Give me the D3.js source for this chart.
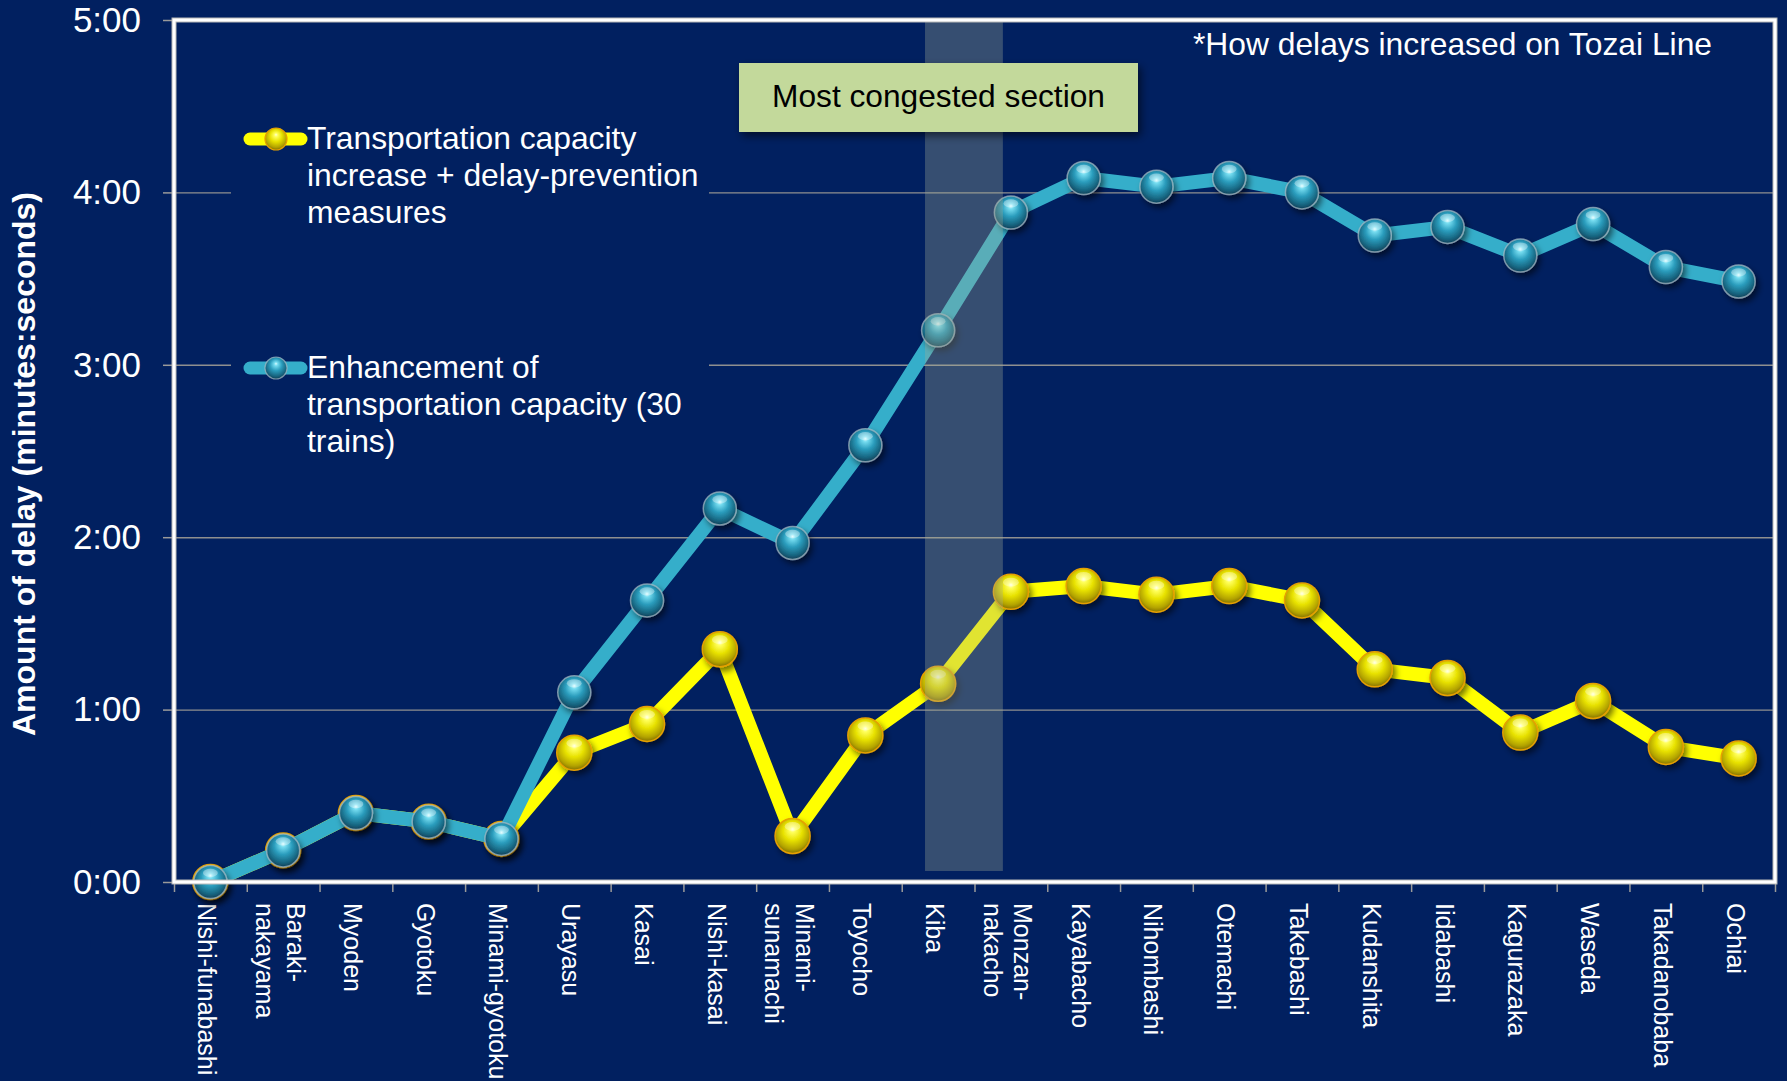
<!DOCTYPE html>
<html>
<head>
<meta charset="utf-8">
<script src="https://cdn.jsdelivr.net/npm/d3@7"></script>
<style>
  html, body { margin: 0; padding: 0; background: #012060; }
  svg { display: block; font-family: "Liberation Sans", Arial, Helvetica, sans-serif; }
</style>
</head>
<body>
<svg id="chart" width="1787" height="1081"></svg>
<script>
// Tozai Line stations, west to east ("\n" marks a label line break)
const stations = [
  "Nishi-funabashi", "Baraki-\nnakayama", "Myoden", "Gyotoku", "Minami-gyotoku",
  "Urayasu", "Kasai", "Nishi-kasai", "Minami-\nsunamachi", "Toyocho", "Kiba",
  "Monzan-\nnakacho", "Kayabacho", "Nihombashi", "Otemachi", "Takebashi",
  "Kudanshita", "Iidabashi", "Kagurazaka", "Waseda", "Takadanobaba", "Ochiai"
];

// Accumulated delay at each station, in seconds
const capacityOnly = [0, 11, 24, 21, 15, 66, 98, 130, 118, 152, 192, 233, 245, 242, 245, 240, 225, 228, 218, 229, 214, 209];
const capacityPlusMeasures = [0, 11, 24, 21, 15, 45, 55, 81, 16, 51, 69, 101, 103, 100, 103, 98, 74, 71, 52, 63, 47, 43];

// Axis ticks, in seconds
const yTicks = [0, 60, 120, 180, 240, 300];

const seriesNames = [
  ["Transportation capacity", "increase + delay-prevention", "measures"],
  ["Enhancement of", "transportation capacity (30", "trains)"]
];
const axisTitle = "Amount of delay (minutes:seconds)";
const noteText = "*How delays increased on Tozai Line";
const sectionText = "Most congested section";
const congestedStation = "Kiba";

const W = 1787, H = 1081;
const plot = { left: 174, right: 1775, top: 20, bottom: 882 };
const BG = "#012060";

const svg = d3.select("#chart");
svg.append("rect").attr("width", W).attr("height", H).attr("fill", BG);

const x = d3.scaleBand().domain(stations).range([plot.left, plot.right]).padding(0);
const xc = d => x(d) + x.bandwidth() / 2;
const y = d3.scaleLinear().domain([0, 300]).range([plot.bottom, plot.top]);
const fmt = s => Math.floor(s / 60) + ":" + String(s % 60).padStart(2, "0");

// ---- defs: sphere gradients and shadows
const defs = svg.append("defs");
function radial(id, stops) {
  const g = defs.append("radialGradient").attr("id", id)
    .attr("cx", "0.5").attr("cy", "0.42").attr("r", "0.6")
    .attr("fx", "0.5").attr("fy", "0.3");
  stops.forEach(([o, c]) => g.append("stop").attr("offset", o).attr("stop-color", c));
}
radial("sphereYellow", [[0, "#ffffd8"], [0.14, "#ffff5a"], [0.45, "#e8e200"], [0.8, "#b3a300"], [1, "#7d6a00"]]);
radial("sphereBlue", [[0, "#d6fbff"], [0.14, "#74dbef"], [0.45, "#2b9dbd"], [0.8, "#17647f"], [1, "#0c3a52"]]);

const shadow = defs.append("filter").attr("id", "shadow")
  .attr("x", "-50%").attr("y", "-50%").attr("width", "200%").attr("height", "200%");
shadow.append("feDropShadow").attr("dx", 3).attr("dy", 4).attr("stdDeviation", 3)
  .attr("flood-color", "#000").attr("flood-opacity", 0.55);
const boxShadow = defs.append("filter").attr("id", "boxShadow")
  .attr("x", "-20%").attr("y", "-30%").attr("width", "140%").attr("height", "160%");
boxShadow.append("feDropShadow").attr("dx", 3).attr("dy", 4).attr("stdDeviation", 4)
  .attr("flood-color", "#000").attr("flood-opacity", 0.55);

// ---- gridlines
const grid = svg.append("g").attr("transform", `translate(${plot.left},0)`)
  .call(d3.axisLeft(y).tickValues(yTicks.slice(1, -1)).tickSize(-(plot.right - plot.left)).tickFormat(""));
grid.select(".domain").remove();
grid.selectAll("line").attr("stroke", "#8f8f8f").attr("stroke-width", 1.4);

// ---- y axis
const yAxis = svg.append("g").attr("transform", `translate(${plot.left},0)`)
  .call(d3.axisLeft(y).tickValues(yTicks).tickSize(11).tickPadding(22).tickFormat(fmt));
yAxis.select(".domain").remove();
yAxis.selectAll("line").attr("stroke", "#9a9a9a").attr("stroke-width", 1.5);
yAxis.selectAll("text").attr("fill", "#fff").attr("font-size", 35)
  .attr("font-family", "'Liberation Sans', Arial, sans-serif");

svg.append("text")
  .attr("transform", "translate(24,464) rotate(-90)")
  .attr("text-anchor", "middle").attr("dominant-baseline", "central")
  .attr("fill", "#fff").attr("font-size", 32).attr("font-weight", "bold")
  .text(axisTitle);

// ---- x axis: ticks on station boundaries
const boundary = d3.scaleLinear().domain([0, stations.length]).range([plot.left, plot.right]);
const xAxis = svg.append("g").attr("transform", `translate(0,${plot.bottom + 2})`)
  .call(d3.axisBottom(boundary).tickValues(d3.range(stations.length + 1)).tickSize(8).tickFormat(""));
xAxis.select(".domain").remove();
xAxis.selectAll("line").attr("stroke", "#9a9a9a").attr("stroke-width", 1.5);

// station labels, rotated to read downward
const lineGap = 30.7;
const labels = svg.append("g");
stations.forEach(s => {
  const lines = s.split("\n");
  const t = labels.append("text")
    .attr("transform", `translate(${xc(s)},903) rotate(90)`)
    .attr("fill", "#fff").attr("font-size", 25);
  lines.forEach((ln, i) => {
    t.append("tspan").attr("x", 0)
      .attr("y", 12 - (lines.length - 1) * lineGap / 2 + i * lineGap)
      .text(ln);
  });
});

// ---- legend background (hides gridlines behind it)
svg.append("rect").attr("x", 231).attr("y", 108).attr("width", 709 - 231).attr("height", 360).attr("fill", BG);

// ---- series
const series = [
  { values: capacityPlusMeasures, line: "#ffff00", width: 14, fill: "url(#sphereYellow)", stroke: "#e6a000", r: 17.5 },
  { values: capacityOnly, line: "#35aeca", width: 14, fill: "url(#sphereBlue)", stroke: "rgba(170,190,200,0.7)", r: 16.5 }
];
const lineGen = d3.line().x((v, i) => xc(stations[i])).y(v => y(v));

series.forEach(sr => {
  const g = svg.append("g");
  g.append("path").datum(sr.values).attr("d", lineGen)
    .attr("fill", "none").attr("stroke", sr.line).attr("stroke-width", sr.width)
    .attr("stroke-linejoin", "round");
  const m = g.selectAll("g.marker").data(sr.values).join("g").attr("class", "marker")
    .attr("transform", (v, i) => `translate(${xc(stations[i])},${y(v)})`);
  m.append("circle").attr("r", sr.r).attr("fill", sr.fill)
    .attr("stroke", sr.stroke).attr("stroke-width", 1.5).attr("filter", "url(#shadow)");
  m.append("ellipse").attr("cx", 0).attr("cy", -sr.r * 0.55).attr("rx", sr.r * 0.45).attr("ry", sr.r * 0.25)
    .attr("fill", "#fff").attr("opacity", 0.35);
});

// ---- highlighted section around the congested station
const bw = x.bandwidth();
svg.append("rect")
  .attr("x", x(congestedStation) + bw * 0.32).attr("y", plot.top)
  .attr("width", bw * 1.07).attr("height", 871 - plot.top)
  .attr("fill", "rgb(165,172,150)").attr("opacity", 0.33);

// ---- plot frame
svg.append("rect").attr("x", plot.left).attr("y", plot.top)
  .attr("width", plot.right - plot.left).attr("height", plot.bottom - plot.top)
  .attr("fill", "none").attr("stroke", "#b8b8b8").attr("stroke-width", 5);
svg.append("rect").attr("x", plot.left).attr("y", plot.top)
  .attr("width", plot.right - plot.left).attr("height", plot.bottom - plot.top)
  .attr("fill", "none").attr("stroke", "#ffffff").attr("stroke-width", 3);

// ---- legend
const legendY = [139, 368];
series.forEach((sr, k) => {
  const g = svg.append("g").attr("transform", `translate(0,${legendY[k]})`);
  g.append("line").attr("x1", 250).attr("x2", 301).attr("y1", 0).attr("y2", 0)
    .attr("stroke", sr.line).attr("stroke-width", 13).attr("stroke-linecap", "round");
  g.append("circle").attr("cx", 276).attr("cy", 0).attr("r", 11).attr("fill", sr.fill)
    .attr("stroke", sr.stroke).attr("stroke-width", 1.2);
  const t = g.append("text").attr("fill", "#fff").attr("font-size", 31.8);
  seriesNames[k].forEach((ln, i) => {
    t.append("tspan").attr("x", 307).attr("y", 10 + i * 36.8).text(ln);
  });
});

// ---- annotations
svg.append("text").attr("x", 1712).attr("y", 55).attr("text-anchor", "end")
  .attr("fill", "#fff").attr("font-size", 31.8).text(noteText);

svg.append("rect").attr("x", 739).attr("y", 63).attr("width", 1138 - 739).attr("height", 69)
  .attr("fill", "#c3d99b").attr("filter", "url(#boxShadow)");
svg.append("text").attr("x", (739 + 1138) / 2).attr("y", 107).attr("text-anchor", "middle")
  .attr("fill", "#000").attr("font-size", 31.7).text(sectionText);
</script>
</body>
</html>
